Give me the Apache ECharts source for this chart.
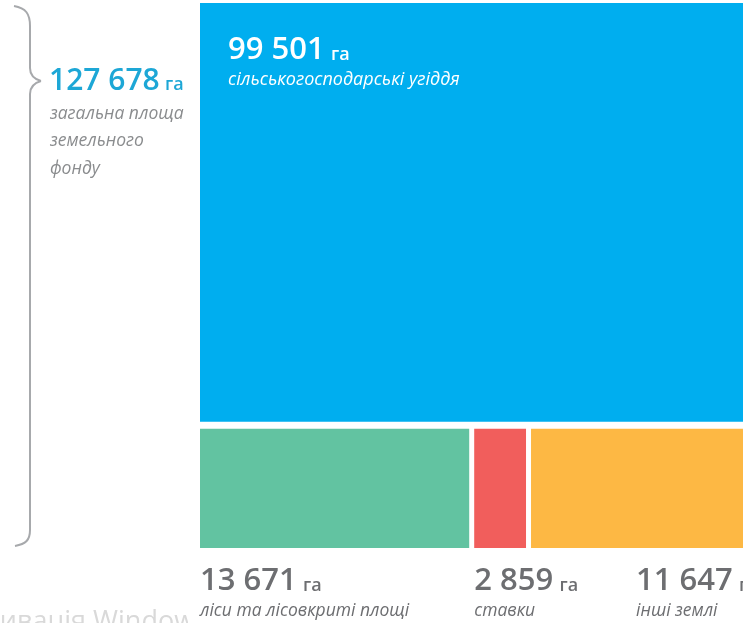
<!DOCTYPE html>
<html>
<head>
<meta charset="utf-8">
<script src="https://cdn.jsdelivr.net/npm/echarts@6/dist/echarts.min.js"></script>
<style>
html,body{margin:0;padding:0;background:#fff;}
#chart{width:743px;height:623px;}
</style>
</head>
<body>
<div id="chart"></div>
<script>
const categories = ['сільськогосподарські угіддя', 'ліси та лісовкриті площі', 'ставки', 'інші землі'];
const values = [99501, 13671, 2859, 11647];
const colors = ['#00aeef', '#62c3a1', '#f15e5c', '#fdb844'];
const totalValue = 127678;
const totalLines = ['загальна площа', 'земельного', 'фонду'];
const unit = 'га';

// label horizontal offsets from each cell's left edge (style)
const labelDx = [28, 0, 0, 105];

function fmt(v) { return String(v).replace(/\B(?=(\d{3})+(?!\d))/g, ' '); }

const FONT = '"Open Sans", "Noto Sans", sans-serif';
const total = values.reduce((a, b) => a + b, 0);
const rest = total - values[0];

// mosaic cells: [x0, x1, y0, y1, index]
const cells = [];
cells.push([0, 1, rest, total, 0]);
let acc = 0;
for (let i = 1; i < values.length; i++) {
  const f0 = acc / rest;
  acc += values[i];
  cells.push([f0, acc / rest, 0, rest, i]);
}

const chart = echarts.init(document.getElementById('chart'));

function richStyles(fg, subSize) {
  return {
    n: { fontSize: 31, fontWeight: 600, fill: fg, fontFamily: FONT, lineHeight: 36, verticalAlign: 'bottom' },
    u: { fontSize: 18, fontWeight: 600, fill: fg, fontFamily: FONT, lineHeight: 36, verticalAlign: 'bottom', padding: [0, 0, 2, 3] },
    s: { fontSize: subSize, fontStyle: 'italic', fill: fg, fontFamily: FONT, lineHeight: 28 }
  };
}

function renderItem(params, api) {
  const x0 = api.value(0), x1 = api.value(1), y0 = api.value(2), y1 = api.value(3);
  const idx = api.value(4);
  const a = api.coord([x0, y1]);
  const b = api.coord([x1, y0]);
  let left = a[0], top = a[1], right = b[0], bottom = b[1];
  if (idx === 0) {
    bottom -= 6;
  } else {
    top += 1;
    if (x0 > 0) left += 2.5;
    if (x1 < 1) right -= 2.5;
  }
  const children = [{
    type: 'rect',
    shape: { x: left, y: top, width: right - left, height: bottom - top },
    style: { fill: colors[idx] }
  }];
  const fg = idx === 0 ? '#fff' : '#6d6e71';
  children.push({
    type: 'text',
    x: left + labelDx[idx],
    y: idx === 0 ? top + 27 : bottom + 13,
    style: {
      text: '{n|' + fmt(values[idx]) + '} {u|' + unit + '}\n{s|' + categories[idx] + '}',
      rich: richStyles(fg, idx === 0 ? 18 : 17.5)
    }
  });
  return { type: 'group', children: children };
}

const braceStyle = { fill: 'none', stroke: '#a7a9ac', lineWidth: 2 };

chart.setOption({
  animation: false,
  backgroundColor: '#fff',
  grid: { left: 200, top: 3, width: 560, height: 545, outerBoundsMode: 'none', containLabel: false },
  xAxis: { type: 'value', min: 0, max: 1, show: false },
  yAxis: { type: 'value', min: 0, max: total, show: false },
  series: [{
    type: 'custom',
    renderItem: renderItem,
    clip: false,
    data: cells
  }],
  graphic: [
    {
      type: 'text', x: -44, y: 609, z: 1,
      style: { text: 'Активація Windows', fontSize: 27, fill: '#d9d9d9', fontFamily: FONT }
    },
    {
      type: 'rect', shape: { x: 188, y: 590, width: 200, height: 33 }, z: 2,
      style: { fill: '#fff' }
    },
    { type: 'bezierCurve', z: 3, shape: { x1: 14, y1: 6, cpx1: 26, cpy1: 8, cpx2: 30, cpy2: 14, x2: 30, y2: 26 }, style: braceStyle },
    { type: 'line', z: 3, shape: { x1: 30, y1: 26, x2: 30, y2: 68 }, style: braceStyle },
    { type: 'bezierCurve', z: 3, shape: { x1: 30, y1: 68, cpx1: 30, cpy1: 75, cpx2: 34, cpy2: 79, x2: 41, y2: 81 }, style: braceStyle },
    { type: 'bezierCurve', z: 3, shape: { x1: 41, y1: 81, cpx1: 34, cpy1: 83, cpx2: 30, cpy2: 87, x2: 30, y2: 94 }, style: braceStyle },
    { type: 'line', z: 3, shape: { x1: 30, y1: 94, x2: 30, y2: 530 }, style: braceStyle },
    { type: 'bezierCurve', z: 3, shape: { x1: 30, y1: 530, cpx1: 30, cpy1: 540, cpx2: 26, cpy2: 544, x2: 15, y2: 546 }, style: braceStyle },
    {
      type: 'text', x: 49, y: 60, z: 3,
      style: {
        text: '{n|' + fmt(totalValue) + '} {u|' + unit + '}',
        rich: {
          n: { fontSize: 30, fontWeight: 600, fill: '#1da7d6', fontFamily: FONT, lineHeight: 36, verticalAlign: 'bottom' },
          u: { fontSize: 18, fontWeight: 600, fill: '#1da7d6', fontFamily: FONT, lineHeight: 36, verticalAlign: 'bottom', padding: [0, 0, 2, 2] }
        }
      }
    },
    {
      type: 'text', x: 50, y: 100, z: 3,
      style: {
        text: totalLines.join('\n'),
        fontSize: 17.5, fontStyle: 'italic', fill: '#8a8c8e', fontFamily: FONT, lineHeight: 27.5
      }
    }
  ]
});
</script>
</body>
</html>
